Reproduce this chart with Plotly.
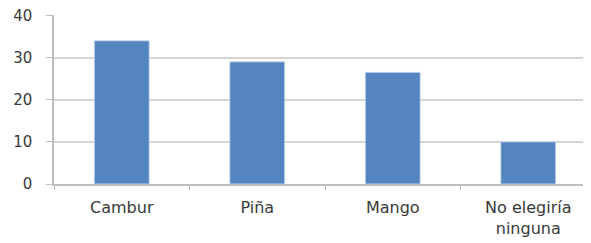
import plotly.graph_objects as go

categories = ["Cambur", "Piña", "Mango", "No elegiría<br>ninguna"]
values = [34, 29, 26.5, 10]
y_ticks = [0, 10, 20, 30, 40]

fig = go.Figure(go.Bar(
    x=categories, y=values,
    marker=dict(color="#5585C0", line=dict(color="#C9D9EE", width=0.8)),
    width=0.405,
))

font = dict(family="DejaVu Sans, Open Sans, sans-serif", size=16, color="#3A3A3A")
fig.update_layout(
    width=583, height=235,
    margin=dict(l=46, r=0, t=7, b=59, autoexpand=False),
    paper_bgcolor="white", plot_bgcolor="white",
    showlegend=False,
    font=font,
)
fig.update_xaxes(
    range=[-0.5, 3.463],
    showgrid=False, automargin=False,
    showline=True, linecolor="#BFBFBF", linewidth=1.5,
    ticks="outside", tickson="boundaries", ticklen=4, tickcolor="#BFBFBF",
    tickfont=dict(size=16), ticklabelstandoff=8,
)
fig.update_yaxes(
    range=[0, 40.12], tickvals=y_ticks, automargin=False,
    showgrid=True, gridcolor="#D4D4D4", gridwidth=1.5,
    showline=True, linecolor="#BFBFBF", linewidth=1.5,
    ticks="outside", ticklen=6, tickcolor="#BFBFBF",
    zeroline=False,
    tickfont=dict(size=15), ticklabelstandoff=11,
    ticklabeloverflow="allow",
)
fig.write_html("out.html")
